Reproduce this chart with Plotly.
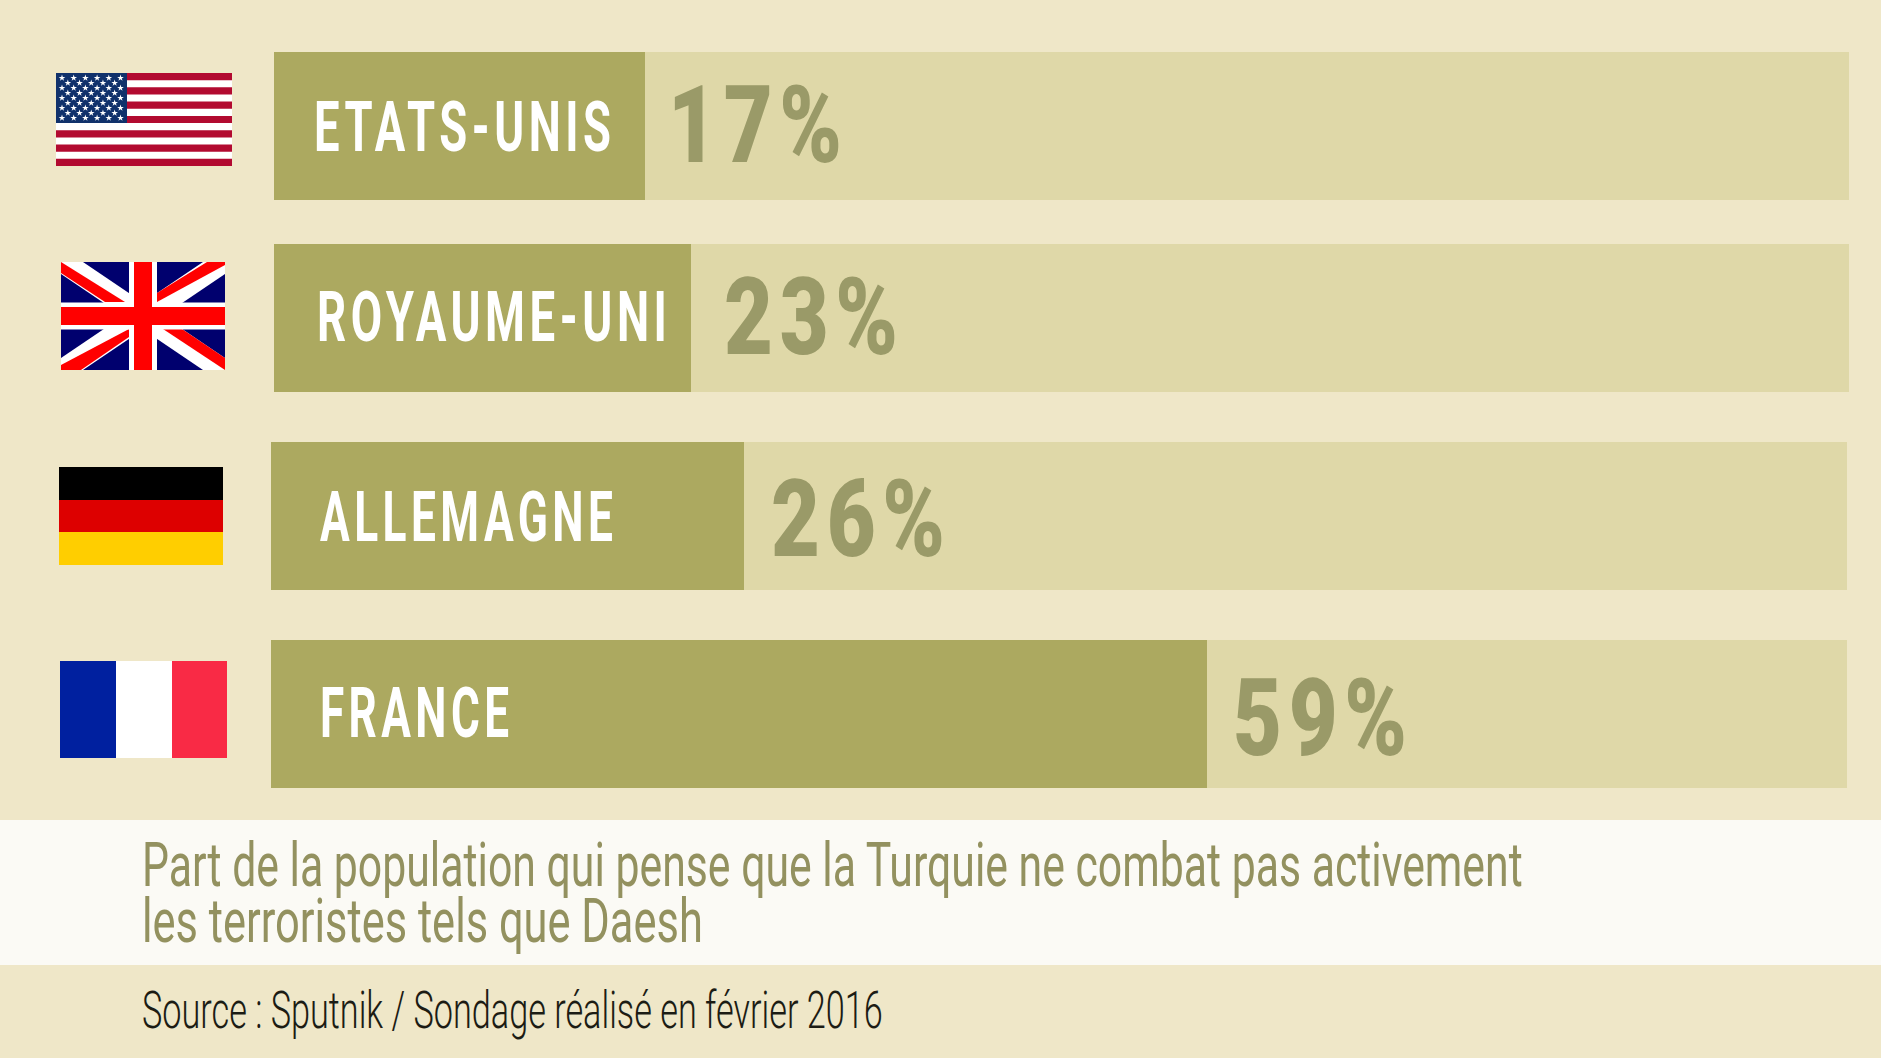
import json

import plotly.graph_objects as go

# %% data
countries = ["ETATS-UNIS", "ROYAUME-UNI", "ALLEMAGNE", "FRANCE"]
values = [17, 23, 26, 59]
# the dark bars are not to scale with the printed numbers: lengths, % of the track
bar_lengths = [23.6, 26.5, 30.0, 59.4]
track_lengths = [100, 100, 100, 100]
caption_lines = [
    "Part de la population qui pense que la Turquie ne combat pas activement",
    "les terroristes tels que Daesh",
]
source_text = "Source : Sputnik / Sondage réalisé en février 2016"

# %% layout
W, H = 1881, 1058
FONT = "Roboto"

BG = "#efe7c8"
TRACK = "#dfd8a8"
BAR = "#aca960"
PCT = "#9a9a68"
BAND = "#fbfaf5"

TRACK_LEFT = 273.5
TRACK_WIDTH = 1575.5
ROW_Y = [126, 318, 516, 714]
ROW_H = 148
ROW_SHIFT = [0, 0, -2.5, -2.5]  # lower two rows sit slightly further left

LABEL_X = [313, 316, 319, 319]
LABEL_Y = [127, 317, 517, 713]
LABEL_W = [297, 350, 293, 189]
PCT_X = [667, 723, 770, 1232]
PCT_Y = [125, 317, 519, 718]


def px(x):
    # picture pixel -> x axis unit (percent of the track)
    return (x - TRACK_LEFT) / TRACK_WIDTH * 100


# text -> [width in px, tracking in em], applied after the plot is drawn (no DIN Condensed here)
text_fit = {}

fig = go.Figure()

base = [s / TRACK_WIDTH * 100 for s in ROW_SHIFT]

fig.add_trace(go.Bar(
    y=ROW_Y, x=track_lengths, base=base, width=ROW_H, orientation="h",
    marker=dict(color=TRACK, line=dict(width=0)), showlegend=False, hoverinfo="skip",
))
fig.add_trace(go.Bar(
    y=ROW_Y, x=bar_lengths, base=base, width=ROW_H, orientation="h",
    marker=dict(color=BAR, line=dict(width=0)), showlegend=False,
    customdata=values, hovertemplate="%{customdata}%<extra></extra>",
))

# %% flags


def rect(x0, y0, x1, y1, color):
    fig.add_shape(type="rect", xref="x", yref="y", x0=px(x0), y0=y0, x1=px(x1), y1=y1,
                  fillcolor=color, line_width=0, layer="below")


def poly(points, color):
    path = "M" + "L".join(f"{px(x)},{y}" for x, y in points) + "Z"
    fig.add_shape(type="path", xref="x", yref="y", path=path,
                  fillcolor=color, line_width=0, layer="below")


# white band goes first, flags stay below the traces so the stars show
fig.add_shape(type="rect", xref="paper", yref="y", x0=0, x1=1, y0=820, y1=965,
              fillcolor=BAND, line_width=0, layer="below")

# USA
ux0, uy0, ux1, uy1 = 56, 73, 232, 166
stripe = (uy1 - uy0) / 13
rect(ux0, uy0, ux1, uy1, "#ffffff")
for i in range(0, 13, 2):
    rect(ux0, uy0 + i * stripe, ux1, uy0 + (i + 1) * stripe, "#b20a30")
rect(ux0, uy0, 127, uy0 + 7 * stripe, "#10316b")

star_x, star_y = [], []
for r in range(9):
    n = 6 if r % 2 == 0 else 5
    for c in range(n):
        star_x.append(px(62 + c * 11.7 + (0 if r % 2 == 0 else 5.85)))
        star_y.append(78 + r * 5)
fig.add_trace(go.Scatter(
    x=star_x, y=star_y, mode="markers",
    marker=dict(symbol="star", size=5, color="#ffffff", line_width=0),
    showlegend=False, hoverinfo="skip",
))

# UK
x0, y0, x1, y1 = 61, 262, 225, 370
xm, ym = 143, 316
rect(x0, y0, x1, y1, "#00006e")
a, b = 22, 12
poly([(x0, y0), (x0 + a, y0), (x1, y1 - b), (x1, y1), (x1 - a, y1), (x0, y0 + b)], "#ffffff")
poly([(x1, y0), (x1, y0 + b), (x0 + a, y1), (x0, y1), (x0, y1 - b), (x1 - a, y0)], "#ffffff")
poly([(61, 262), (125, 302), (105, 302), (61, 273)], "#ff0000")
poly([(207, 262), (225, 262), (225, 265), (157, 302), (157, 293)], "#ff0000")
poly([(61, 370), (81, 370), (129, 337), (129, 329), (61, 365)], "#ff0000")
poly([(225, 370), (163, 329), (182, 329), (225, 358)], "#ff0000")
rect(xm - 14, y0, xm + 14, y1, "#ffffff")
rect(x0, ym - 13.5, x1, ym + 13.5, "#ffffff")
rect(xm - 9, y0, xm + 9, y1, "#ff0000")
rect(x0, ym - 9, x1, ym + 9, "#ff0000")

# Germany
rect(59, 467, 223, 500, "#000000")
rect(59, 500, 223, 532, "#dd0000")
rect(59, 532, 223, 565, "#ffce00")

# France
rect(60, 661, 116, 758, "#00209f")
rect(116, 661, 172, 758, "#ffffff")
rect(172, 661, 227, 758, "#f92a45")

# %% text


def add_text(text, x, y, size, color, width, weight=400, tracking=0):
    fig.add_annotation(
        text=text, xref="x", yref="y", x=px(x), y=y, xanchor="left", yanchor="middle", align="left",
        showarrow=False, borderpad=0, font=dict(family=FONT, size=size, color=color, weight=weight),
    )
    text_fit[text] = [width, tracking]


for i, name in enumerate(countries):
    add_text(name, LABEL_X[i], LABEL_Y[i], 70, "#ffffff", LABEL_W[i], 700, 0.1)
    add_text(f"{values[i]}%", PCT_X[i], PCT_Y[i], 108, PCT, 174, 900, 0.08)

add_text(caption_lines[0], 141, 865, 61, "#93915f", 1381, 400)
add_text(caption_lines[1], 141, 921, 61, "#93915f", 561, 400)
add_text(source_text, 141, 1010, 52, "#1c1c14", 741, 300)

# %% layout
fig.update_layout(
    width=W,
    height=H,
    margin=dict(l=0, r=0, t=0, b=0),
    paper_bgcolor=BG,
    plot_bgcolor="rgba(0,0,0,0)",
    barmode="overlay",
    bargap=0,
    showlegend=False,
    xaxis=dict(domain=[0, 1], range=[px(0), px(W)], visible=False),
    yaxis=dict(domain=[0, 1], range=[H, 0], visible=False),
)

# body margin off, then squeeze the real text to the condensed widths of the original
post = """
document.body.style.margin = '0';
document.body.style.overflow = 'hidden';
var fit = %s;
document.querySelectorAll('text.annotation-text').forEach(function (t) {
    var f = fit[t.textContent];
    if (!f) return;
    var size = parseFloat(t.style.fontSize);
    t.style.letterSpacing = f[1] + 'em';
    var natural = t.getComputedTextLength() - f[1] * size;
    var x = parseFloat(t.getAttribute('x')) || 0;
    t.setAttribute('transform', 'translate(' + x + ',0) scale(' + f[0] / natural + ',1) translate(' + (-x) + ',0)');
    var bg = t.parentNode.querySelector('rect.bg');
    if (bg) bg.setAttribute('width', f[0]);
});
""" % json.dumps(text_fit, ensure_ascii=False)

fig.write_html("out.html", post_script=post, config=dict(displayModeBar=False))
